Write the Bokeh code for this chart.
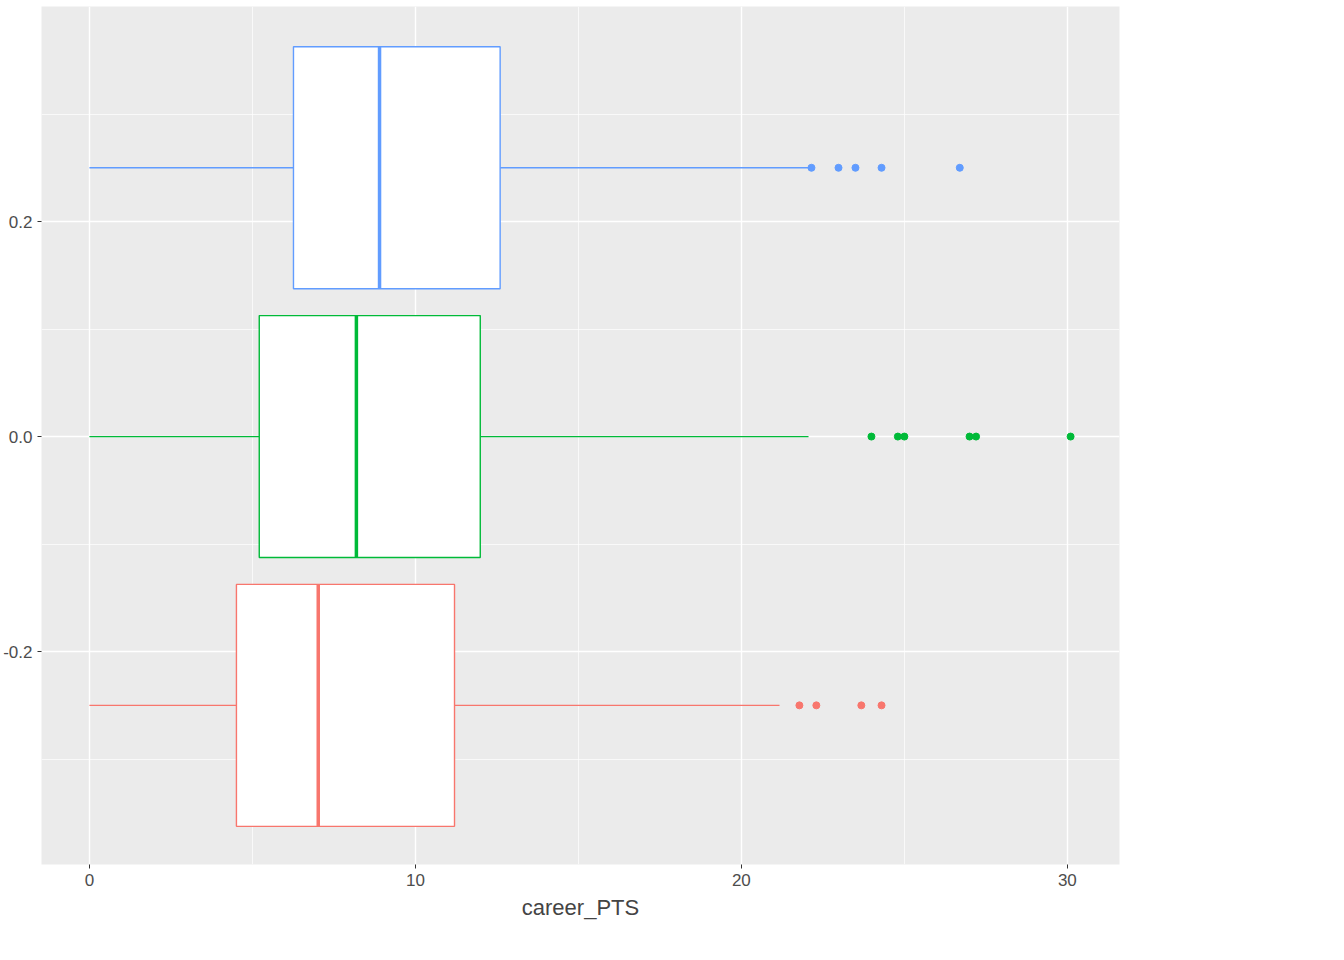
from bokeh.plotting import figure
from bokeh.models import ColumnDataSource, Legend, LegendItem, FixedTicker, PrintfTickFormatter
from bokeh.embed import file_html
from bokeh.resources import INLINE

roles = ["center", "other", "pg"]
colors = ["#F8766D", "#00BA38", "#619CFF"]
ypos = [-0.25, 0.0, 0.25]
lower = [0.0, 0.0, 0.0]
q1 = [4.51, 5.21, 6.26]
median = [7.02, 8.19, 8.9]
q3 = [11.2, 11.99, 12.6]
upper = [21.17, 22.06, 22.15]
outliers = [
    [21.78, 22.3, 23.68, 24.3],
    [23.99, 24.8, 25.0, 27.0, 27.2, 30.1],
    [22.15, 22.98, 23.5, 24.3, 26.7],
]
box_h = 0.225

p = figure(frame_width=1078, frame_height=858, x_range=(-1.47, 31.6), y_range=(-0.398, 0.4),
           output_backend="svg", toolbar_location=None,
           min_border_left=10, min_border_top=6, min_border_right=10, min_border_bottom=10)
p.background_fill_color = "#EBEBEB"
p.border_fill_color = "white"
p.outline_line_color = None
p.xgrid.ticker = FixedTicker(ticks=[0, 10, 20, 30], minor_ticks=[5, 15, 25])
p.ygrid.ticker = FixedTicker(ticks=[-0.2, 0.0, 0.2], minor_ticks=[-0.3, -0.1, 0.1, 0.3])
p.xaxis.ticker = FixedTicker(ticks=[0, 10, 20, 30])
p.yaxis.ticker = FixedTicker(ticks=[-0.2, 0.0, 0.2])
p.yaxis.formatter = PrintfTickFormatter(format="%.1f")
for g in (p.xgrid, p.ygrid):
    g.grid_line_color = "white"
    g.grid_line_width = 1.4
    g.minor_grid_line_color = "white"
    g.minor_grid_line_width = 0.7
for ax in (p.xaxis, p.yaxis):
    ax.axis_line_color = None
    ax.major_tick_line_color = "#333333"
    ax.major_tick_in = 0
    ax.major_tick_out = 4
    ax.minor_tick_line_color = None
    ax.major_label_text_font = "Liberation Sans"
    ax.major_label_text_font_size = "17px"
    ax.major_label_text_color = "#4D4D4D"
p.xaxis.axis_label = "career_PTS"
p.xaxis.axis_label_text_font = "Liberation Sans"
p.xaxis.axis_label_text_font_size = "22px"
p.xaxis.axis_label_text_font_style = "normal"
p.xaxis.axis_label_standoff = 6

items = []
for i, r in enumerate(roles):
    c = colors[i]
    y = ypos[i]
    p.segment(x0=[lower[i], q3[i]], x1=[q1[i], upper[i]], y0=[y, y], y1=[y, y],
              line_color=c, line_width=1.4)
    box = p.quad(left=[q1[i]], right=[q3[i]], bottom=[y - box_h / 2], top=[y + box_h / 2],
                 fill_color="white", line_color=c, line_width=1.4)
    p.segment(x0=[median[i]], x1=[median[i]], y0=[y - box_h / 2], y1=[y + box_h / 2],
              line_color=c, line_width=3.5)
    src = ColumnDataSource(dict(x=outliers[i], y=[y] * len(outliers[i])))
    p.scatter("x", "y", source=src, size=7, color=c)
    items.append(LegendItem(label=r, renderers=[box]))

legend = Legend(items=items, title="role", location="center",
                label_text_font="Liberation Sans", label_text_font_size="20px",
                title_text_font="Liberation Sans", title_text_font_size="24px",
                title_text_font_style="normal",
                glyph_width=24, glyph_height=38, spacing=8, padding=2,
                border_line_color=None, background_fill_color="white",
                margin=10)
p.add_layout(legend, "right")

open("out.html", "w").write(file_html(p, INLINE))
